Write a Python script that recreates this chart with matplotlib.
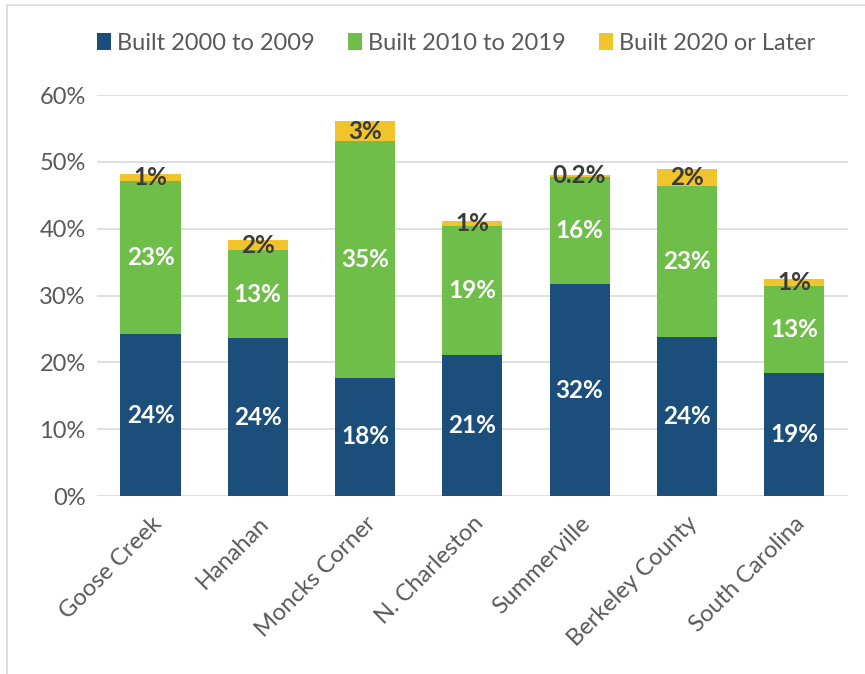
import matplotlib
matplotlib.use("Agg")
from matplotlib import pyplot as plt
from matplotlib.patches import Rectangle
import numpy as np

plt.rcParams['font.family'] = ['Lato', 'DejaVu Sans']

places = ['Goose Creek', 'Hanahan', 'Moncks Corner', 'N. Charleston',
          'Summerville', 'Berkeley County', 'South Carolina']
built_2000s = [24.2, 23.6, 17.7, 21.1, 31.7, 23.8, 18.4]
built_2010s = [23.0, 13.2, 35.4, 19.3, 16.1, 22.6, 13.0]
built_2020s = [1.0, 1.5, 3.0, 0.8, 0.2, 2.5, 1.1]
labels_2000s = ['24%', '24%', '18%', '21%', '32%', '24%', '19%']
labels_2010s = ['23%', '13%', '35%', '19%', '16%', '23%', '13%']
labels_2020s = ['1%', '2%', '3%', '1%', '0.2%', '2%', '1%']

blue = '#1b4e7b'
green = '#6fbe4a'
yellow = '#f2c42c'

fig = plt.figure(figsize=(8.65, 6.74), dpi=100)
ax = fig.add_axes([0.112, 0.264, 0.868, 0.595])

# outer chart border
fig.patches.append(Rectangle((0.008, -0.01), 1.05, 1.003, transform=fig.transFigure,
                             fill=False, edgecolor='#d9d9d9', linewidth=1.2))

x = np.arange(len(places))
w = 0.56
b1 = ax.bar(x, built_2000s, w, color=blue, label='Built 2000 to 2009', zorder=3)
b2 = ax.bar(x, built_2010s, w, bottom=built_2000s, color=green,
            label='Built 2010 to 2019', zorder=3)
bottom3 = np.array(built_2000s) + np.array(built_2010s)
b3 = ax.bar(x, built_2020s, w, bottom=bottom3, color=yellow,
            label='Built 2020 or Later', zorder=3)

for i in range(len(places)):
    ax.text(x[i], built_2000s[i] / 2, labels_2000s[i], ha='center', va='center',
            color='white', fontsize=17.5, fontweight='bold', zorder=4)
    ax.text(x[i], built_2000s[i] + built_2010s[i] / 2, labels_2010s[i],
            ha='center', va='center', color='white', fontsize=17.5,
            fontweight='bold', zorder=4)
    ax.text(x[i], bottom3[i] + built_2020s[i] / 2, labels_2020s[i],
            ha='center', va='center', color='#3a3a3a', fontsize=17.5,
            fontweight='bold', zorder=4)

ax.set_ylim(0, 60)
ax.set_xlim(-0.5, len(places) - 0.5)
ax.set_yticks(range(0, 61, 10))
ax.set_yticklabels([f'{v}%' for v in range(0, 61, 10)])
ax.set_xticks(x)
ax.set_xticklabels(places, rotation=45, ha='right', rotation_mode='anchor')
ax.tick_params(axis='both', length=0, labelsize=17, labelcolor='#595959', pad=8)
ax.tick_params(axis='x', pad=12)
ax.grid(axis='y', color='#d9d9d9', linewidth=1.2, zorder=0)
for s in ax.spines.values():
    s.set_visible(False)

fig.legend(handles=[b1, b2, b3], loc='center', bbox_to_anchor=(0.527, 0.936),
           ncol=3, frameon=False, fontsize=17, handlelength=0.6, handleheight=0.7,
           handletextpad=0.25, columnspacing=1.4, labelcolor='#595959')

fig.savefig('out.png', dpi=100)
